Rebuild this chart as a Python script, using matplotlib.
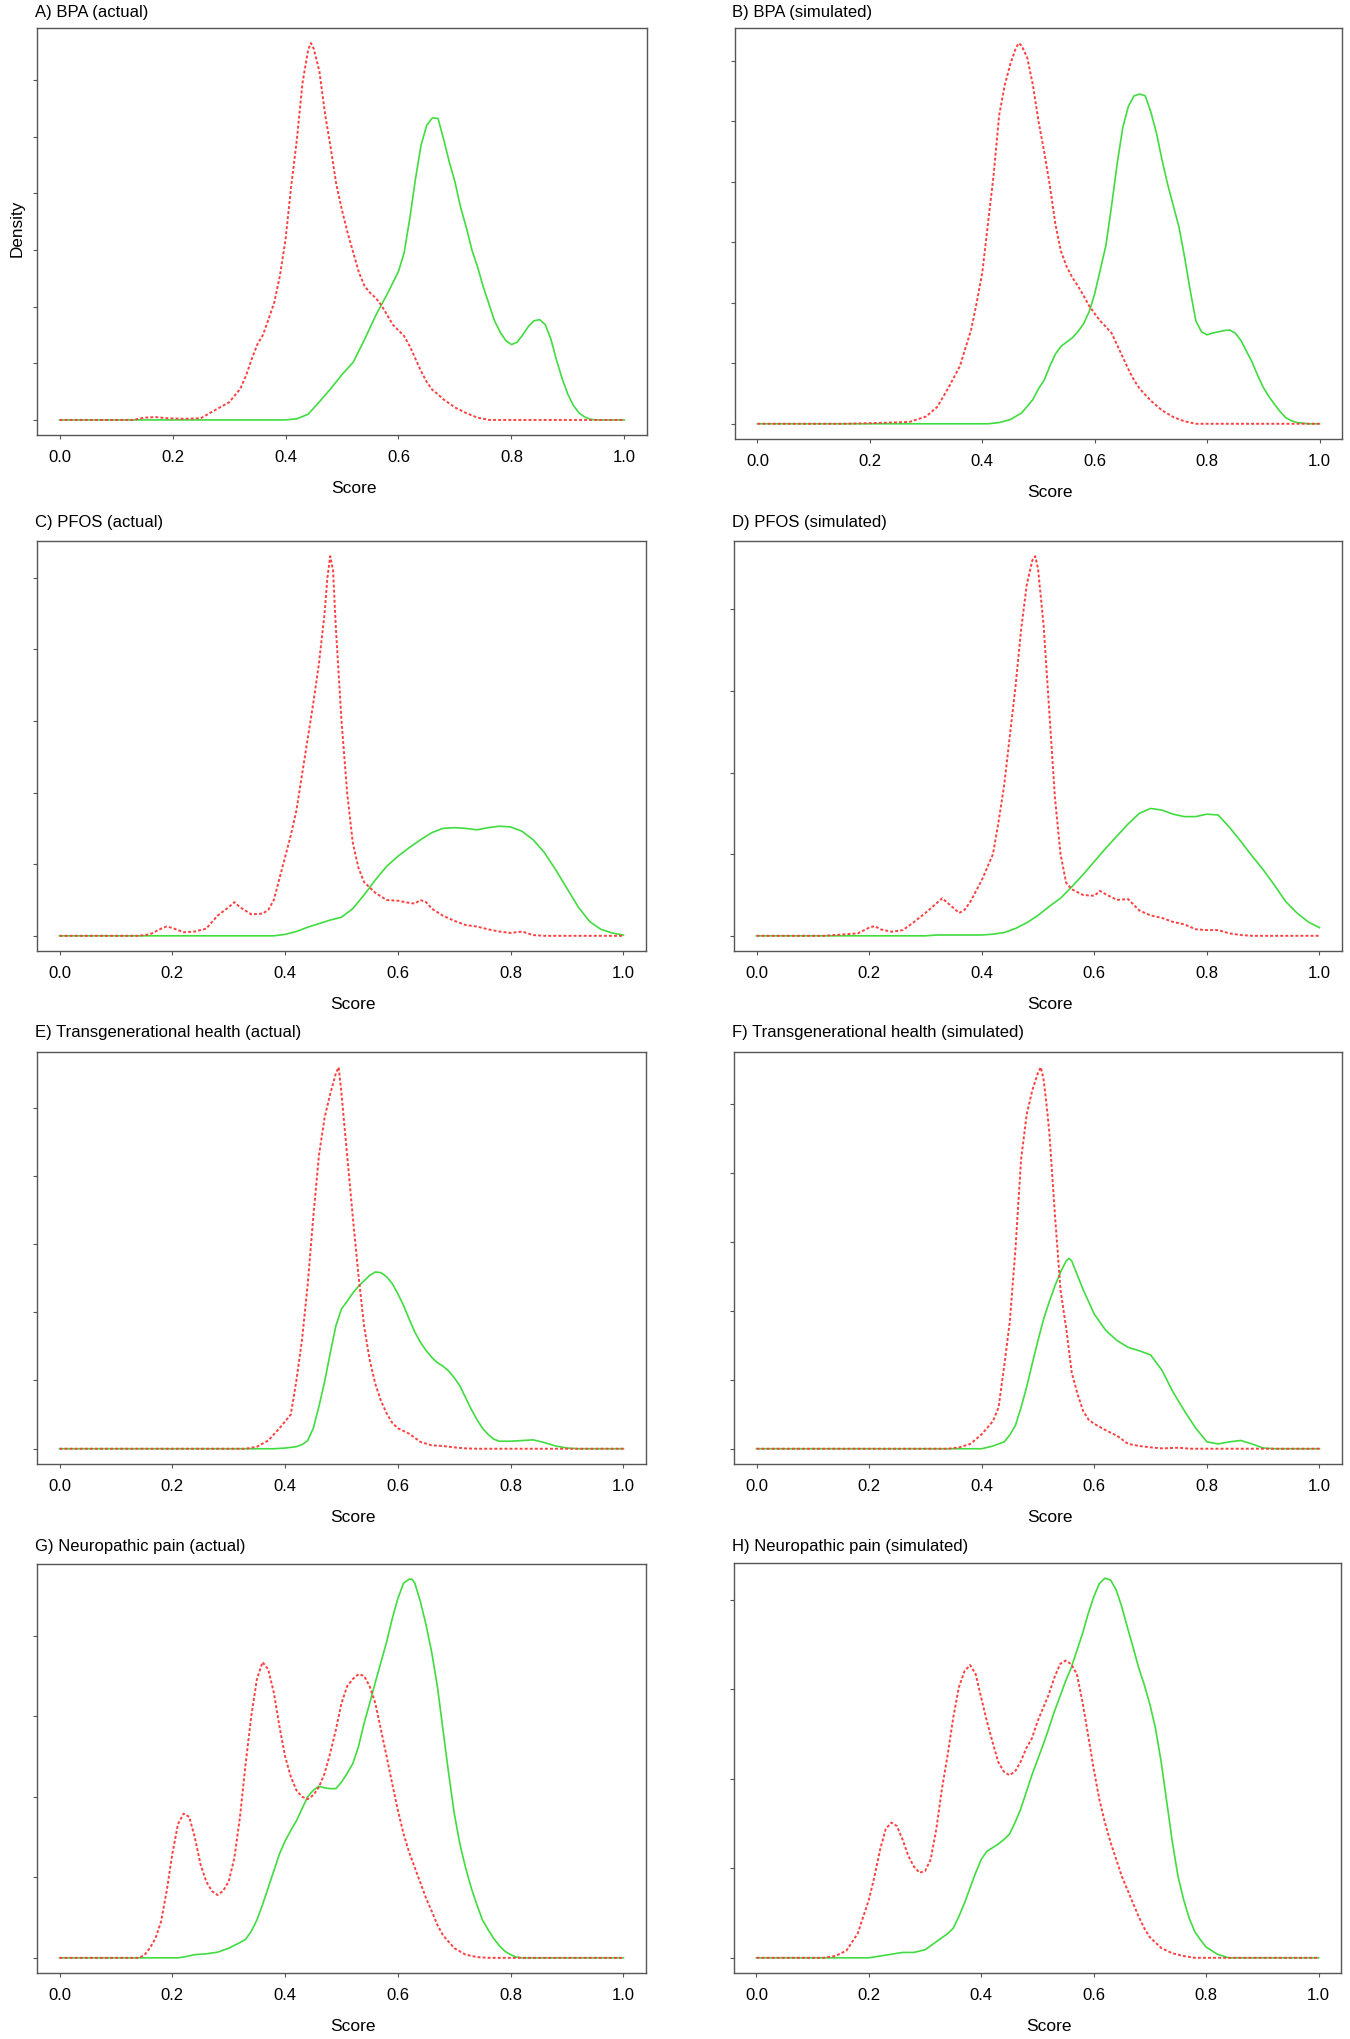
import matplotlib
matplotlib.use("Agg")
import matplotlib.pyplot as plt

plt.rcParams['font.family'] = ['Liberation Sans', 'DejaVu Sans']

# density curves, (score, density) pairs, density in y-tick units
bpa_actual_red = [(0, 0), (0.13, 0), (0.15, 0.04), (0.17, 0.05), (0.19, 0.03), (0.22, 0.02), (0.25, 0.03),
                  (0.28, 0.2), (0.30, 0.31), (0.32, 0.55), (0.33, 0.78), (0.34, 1.07), (0.35, 1.33), (0.36, 1.5),
                  (0.37, 1.78), (0.38, 2.07), (0.39, 2.54), (0.40, 3.18), (0.41, 4.12), (0.42, 4.94), (0.43, 5.94),
                  (0.44, 6.53), (0.445, 6.65), (0.45, 6.55), (0.46, 6.15), (0.47, 5.4), (0.48, 4.8), (0.49, 4.15),
                  (0.50, 3.7), (0.51, 3.3), (0.52, 2.95), (0.53, 2.6), (0.54, 2.36), (0.55, 2.24), (0.56, 2.15),
                  (0.57, 2.02), (0.58, 1.85), (0.59, 1.68), (0.60, 1.58), (0.61, 1.48), (0.62, 1.30), (0.63, 1.08),
                  (0.64, 0.86), (0.65, 0.67), (0.66, 0.53), (0.67, 0.45), (0.68, 0.36), (0.70, 0.22), (0.72, 0.12),
                  (0.74, 0.04), (0.76, 0), (1.0, 0)]
bpa_actual_green = [(0, 0), (0.40, 0), (0.42, 0.02), (0.44, 0.1), (0.46, 0.32), (0.48, 0.55), (0.50, 0.8),
                    (0.52, 1.02), (0.54, 1.42), (0.56, 1.85), (0.58, 2.22), (0.60, 2.62), (0.61, 2.95), (0.62, 3.55),
                    (0.63, 4.25), (0.64, 4.85), (0.65, 5.2), (0.66, 5.33), (0.67, 5.32), (0.68, 4.95), (0.69, 4.55),
                    (0.70, 4.2), (0.71, 3.75), (0.72, 3.4), (0.73, 3.0), (0.74, 2.7), (0.75, 2.35), (0.76, 2.05),
                    (0.77, 1.75), (0.78, 1.55), (0.79, 1.4), (0.80, 1.33), (0.81, 1.37), (0.82, 1.5), (0.83, 1.65),
                    (0.84, 1.75), (0.85, 1.77), (0.86, 1.68), (0.87, 1.42), (0.88, 1.05), (0.89, 0.72), (0.90, 0.45),
                    (0.91, 0.25), (0.92, 0.12), (0.93, 0.05), (0.94, 0.01), (0.95, 0), (1.0, 0)]

bpa_sim_red = [(0, 0), (0.15, 0), (0.2, 0.01), (0.27, 0.03), (0.30, 0.12), (0.32, 0.28), (0.34, 0.6), (0.36, 0.95),
               (0.37, 1.25), (0.38, 1.55), (0.39, 2.0), (0.40, 2.5), (0.41, 3.3), (0.42, 4.1), (0.43, 5.1),
               (0.44, 5.6), (0.45, 5.95), (0.46, 6.22), (0.465, 6.29), (0.47, 6.25), (0.48, 6.05), (0.49, 5.6),
               (0.50, 5.0), (0.51, 4.5), (0.52, 3.95), (0.53, 3.3), (0.54, 2.85), (0.55, 2.6), (0.56, 2.42),
               (0.57, 2.28), (0.58, 2.12), (0.59, 1.95), (0.60, 1.82), (0.61, 1.7), (0.62, 1.6), (0.63, 1.5),
               (0.64, 1.3), (0.65, 1.1), (0.66, 0.9), (0.67, 0.72), (0.68, 0.58), (0.70, 0.38), (0.72, 0.22),
               (0.74, 0.11), (0.76, 0.04), (0.78, 0), (1.0, 0)]
bpa_sim_green = [(0, 0), (0.41, 0), (0.43, 0.02), (0.45, 0.07), (0.47, 0.18), (0.49, 0.4), (0.50, 0.58),
                 (0.51, 0.72), (0.52, 0.95), (0.53, 1.15), (0.54, 1.28), (0.55, 1.35), (0.56, 1.42), (0.57, 1.52),
                 (0.58, 1.65), (0.59, 1.85), (0.60, 2.15), (0.61, 2.55), (0.62, 2.95), (0.63, 3.6), (0.64, 4.3),
                 (0.65, 4.9), (0.66, 5.25), (0.67, 5.42), (0.68, 5.45), (0.69, 5.42), (0.70, 5.15), (0.71, 4.8),
                 (0.72, 4.35), (0.73, 3.95), (0.74, 3.6), (0.75, 3.25), (0.76, 2.75), (0.77, 2.2), (0.78, 1.7),
                 (0.79, 1.52), (0.80, 1.47), (0.81, 1.5), (0.82, 1.52), (0.83, 1.54), (0.84, 1.55), (0.85, 1.5),
                 (0.86, 1.38), (0.87, 1.2), (0.88, 1.02), (0.89, 0.8), (0.90, 0.6), (0.91, 0.45), (0.92, 0.32),
                 (0.93, 0.2), (0.94, 0.1), (0.95, 0.05), (0.96, 0.02), (0.98, 0), (1.0, 0)]

pfos_actual_red = [(0, 0), (0.14, 0), (0.16, 0.02), (0.18, 0.1), (0.19, 0.13), (0.20, 0.11), (0.22, 0.05),
                   (0.24, 0.06), (0.26, 0.1), (0.28, 0.28), (0.30, 0.4), (0.31, 0.47), (0.32, 0.4), (0.34, 0.3),
                   (0.36, 0.31), (0.37, 0.36), (0.38, 0.5), (0.39, 0.8), (0.40, 1.1), (0.41, 1.4), (0.42, 1.75),
                   (0.43, 2.25), (0.44, 2.75), (0.45, 3.25), (0.46, 3.8), (0.47, 4.5), (0.475, 5.0), (0.48, 5.3),
                   (0.485, 5.1), (0.49, 4.3), (0.50, 3.0), (0.51, 2.0), (0.52, 1.3), (0.53, 0.95), (0.54, 0.75),
                   (0.56, 0.6), (0.58, 0.5), (0.60, 0.49), (0.62, 0.46), (0.63, 0.45), (0.64, 0.5), (0.65, 0.47),
                   (0.66, 0.38), (0.68, 0.28), (0.70, 0.21), (0.72, 0.15), (0.74, 0.13), (0.76, 0.09), (0.78, 0.06),
                   (0.80, 0.04), (0.82, 0.06), (0.84, 0.01), (0.86, 0), (1.0, 0)]
pfos_actual_green = [(0, 0), (0.38, 0), (0.40, 0.02), (0.42, 0.06), (0.44, 0.12), (0.46, 0.17), (0.48, 0.22),
                     (0.50, 0.26), (0.52, 0.38), (0.54, 0.57), (0.56, 0.78), (0.58, 0.97), (0.60, 1.11), (0.62, 1.23),
                     (0.64, 1.34), (0.66, 1.44), (0.68, 1.50), (0.70, 1.51), (0.72, 1.50), (0.74, 1.48), (0.76, 1.51),
                     (0.78, 1.53), (0.80, 1.52), (0.82, 1.46), (0.84, 1.34), (0.86, 1.16), (0.88, 0.92), (0.90, 0.66),
                     (0.92, 0.40), (0.94, 0.20), (0.96, 0.09), (0.98, 0.04), (1.0, 0.01)]

pfos_sim_red = [(0, 0), (0.12, 0), (0.14, 0.01), (0.18, 0.03), (0.20, 0.1), (0.21, 0.12), (0.22, 0.08), (0.24, 0.05),
                (0.26, 0.07), (0.28, 0.17), (0.30, 0.28), (0.32, 0.4), (0.33, 0.46), (0.34, 0.4), (0.36, 0.28),
                (0.37, 0.32), (0.38, 0.42), (0.40, 0.68), (0.42, 1.0), (0.43, 1.4), (0.44, 1.85), (0.45, 2.45),
                (0.46, 3.05), (0.47, 3.75), (0.48, 4.3), (0.49, 4.6), (0.495, 4.65), (0.50, 4.5), (0.51, 3.8),
                (0.52, 2.75), (0.53, 1.7), (0.54, 1.0), (0.55, 0.65), (0.56, 0.57), (0.58, 0.5), (0.60, 0.49),
                (0.61, 0.55), (0.62, 0.51), (0.64, 0.44), (0.66, 0.45), (0.68, 0.31), (0.70, 0.25), (0.72, 0.22),
                (0.74, 0.17), (0.76, 0.14), (0.78, 0.08), (0.80, 0.07), (0.82, 0.07), (0.84, 0.03), (0.86, 0.01),
                (0.88, 0), (1.0, 0)]
pfos_sim_green = [(0, 0), (0.30, 0), (0.32, 0.01), (0.40, 0.01), (0.42, 0.02), (0.44, 0.04), (0.46, 0.09),
                  (0.48, 0.16), (0.50, 0.25), (0.52, 0.36), (0.54, 0.46), (0.56, 0.60), (0.58, 0.75), (0.60, 0.91),
                  (0.62, 1.07), (0.64, 1.22), (0.66, 1.37), (0.68, 1.50), (0.70, 1.56), (0.72, 1.54), (0.74, 1.49),
                  (0.76, 1.46), (0.78, 1.46), (0.80, 1.49), (0.82, 1.48), (0.84, 1.33), (0.86, 1.16), (0.88, 0.98),
                  (0.90, 0.81), (0.92, 0.62), (0.94, 0.42), (0.96, 0.28), (0.98, 0.17), (1.0, 0.10)]

trans_actual_red = [(0, 0), (0.33, 0), (0.35, 0.03), (0.37, 0.12), (0.39, 0.3), (0.41, 0.5), (0.42, 1.0),
                    (0.43, 1.6), (0.44, 2.4), (0.45, 3.4), (0.46, 4.3), (0.47, 4.85), (0.48, 5.2), (0.49, 5.5),
                    (0.495, 5.59), (0.50, 5.2), (0.51, 4.3), (0.52, 3.4), (0.53, 2.55), (0.54, 1.8), (0.55, 1.3),
                    (0.56, 0.95), (0.57, 0.7), (0.58, 0.52), (0.59, 0.38), (0.60, 0.3), (0.62, 0.22), (0.64, 0.1),
                    (0.66, 0.05), (0.68, 0.04), (0.70, 0.02), (0.72, 0.005), (0.74, 0), (1.0, 0)]
trans_actual_green = [(0, 0), (0.38, 0), (0.40, 0.01), (0.42, 0.03), (0.43, 0.06), (0.44, 0.12), (0.45, 0.3),
                      (0.46, 0.62), (0.47, 0.98), (0.48, 1.4), (0.49, 1.8), (0.50, 2.05), (0.51, 2.16), (0.52, 2.28),
                      (0.53, 2.38), (0.54, 2.46), (0.55, 2.54), (0.56, 2.59), (0.57, 2.58), (0.58, 2.52), (0.59, 2.42),
                      (0.60, 2.27), (0.61, 2.1), (0.62, 1.9), (0.63, 1.71), (0.64, 1.56), (0.65, 1.44), (0.66, 1.34),
                      (0.67, 1.26), (0.68, 1.21), (0.69, 1.14), (0.70, 1.04), (0.71, 0.92), (0.72, 0.75), (0.73, 0.58),
                      (0.74, 0.43), (0.75, 0.3), (0.76, 0.21), (0.77, 0.14), (0.78, 0.11), (0.80, 0.11), (0.82, 0.12),
                      (0.84, 0.13), (0.86, 0.09), (0.88, 0.04), (0.90, 0.01), (0.92, 0), (1.0, 0)]

trans_sim_red = [(0, 0), (0.34, 0), (0.36, 0.02), (0.38, 0.07), (0.40, 0.21), (0.42, 0.4), (0.43, 0.6), (0.44, 1.2),
                 (0.45, 1.85), (0.46, 2.9), (0.47, 4.2), (0.48, 4.85), (0.49, 5.2), (0.50, 5.45), (0.505, 5.53),
                 (0.51, 5.35), (0.515, 5.0), (0.52, 4.6), (0.53, 3.4), (0.54, 2.3), (0.55, 1.75), (0.56, 1.1),
                 (0.57, 0.8), (0.58, 0.55), (0.59, 0.42), (0.60, 0.36), (0.62, 0.27), (0.64, 0.19), (0.66, 0.07),
                 (0.68, 0.04), (0.70, 0.02), (0.72, 0.005), (0.75, 0.015), (0.77, 0), (1.0, 0)]
trans_sim_green = [(0, 0), (0.40, 0), (0.42, 0.04), (0.44, 0.10), (0.45, 0.20), (0.46, 0.34), (0.47, 0.60),
                   (0.48, 0.90), (0.49, 1.24), (0.50, 1.57), (0.51, 1.88), (0.52, 2.13), (0.53, 2.36), (0.54, 2.56),
                   (0.55, 2.72), (0.555, 2.76), (0.56, 2.72), (0.58, 2.31), (0.60, 1.95), (0.62, 1.72), (0.64, 1.57),
                   (0.66, 1.47), (0.68, 1.42), (0.70, 1.36), (0.72, 1.14), (0.74, 0.82), (0.76, 0.55), (0.78, 0.30),
                   (0.80, 0.10), (0.82, 0.07), (0.84, 0.10), (0.86, 0.12), (0.88, 0.07), (0.90, 0.01), (0.92, 0),
                   (1.0, 0)]

neuro_actual_red = [(0, 0), (0.14, 0), (0.15, 0.03), (0.16, 0.12), (0.17, 0.24), (0.18, 0.45), (0.19, 0.83),
                    (0.20, 1.29), (0.21, 1.66), (0.22, 1.79), (0.23, 1.75), (0.24, 1.49), (0.25, 1.16), (0.26, 0.95),
                    (0.27, 0.83), (0.28, 0.78), (0.29, 0.83), (0.30, 0.95), (0.31, 1.24), (0.32, 1.75), (0.33, 2.41),
                    (0.34, 3.00), (0.35, 3.46), (0.36, 3.67), (0.37, 3.58), (0.38, 3.29), (0.39, 2.87), (0.40, 2.50),
                    (0.41, 2.25), (0.42, 2.08), (0.43, 2.00), (0.44, 1.97), (0.45, 2.02), (0.46, 2.12), (0.47, 2.29),
                    (0.48, 2.54), (0.49, 2.83), (0.50, 3.16), (0.51, 3.37), (0.52, 3.46), (0.53, 3.52), (0.54, 3.50),
                    (0.55, 3.37), (0.56, 3.16), (0.57, 2.83), (0.58, 2.50), (0.59, 2.16), (0.60, 1.83), (0.61, 1.54),
                    (0.62, 1.31), (0.63, 1.12), (0.64, 0.93), (0.65, 0.74), (0.66, 0.58), (0.67, 0.41), (0.68, 0.28),
                    (0.70, 0.12), (0.72, 0.04), (0.74, 0.01), (0.76, 0), (1.0, 0)]
neuro_actual_green = [(0, 0), (0.21, 0), (0.22, 0.01), (0.24, 0.04), (0.26, 0.05), (0.28, 0.07), (0.30, 0.12),
                      (0.32, 0.19), (0.33, 0.23), (0.34, 0.33), (0.35, 0.47), (0.36, 0.66), (0.37, 0.87), (0.38, 1.08),
                      (0.39, 1.29), (0.40, 1.45), (0.41, 1.58), (0.42, 1.70), (0.43, 1.85), (0.44, 2.00), (0.45, 2.08),
                      (0.46, 2.13), (0.47, 2.11), (0.48, 2.10), (0.49, 2.10), (0.50, 2.18), (0.51, 2.29), (0.52, 2.41),
                      (0.53, 2.62), (0.54, 2.91), (0.55, 3.16), (0.56, 3.42), (0.57, 3.67), (0.58, 3.92), (0.59, 4.21),
                      (0.60, 4.46), (0.61, 4.65), (0.62, 4.70), (0.625, 4.70), (0.63, 4.65), (0.64, 4.42), (0.65, 4.13),
                      (0.66, 3.79), (0.67, 3.37), (0.68, 2.83), (0.69, 2.29), (0.70, 1.79), (0.71, 1.41), (0.72, 1.12),
                      (0.73, 0.87), (0.74, 0.66), (0.75, 0.47), (0.76, 0.35), (0.77, 0.24), (0.78, 0.15), (0.79, 0.08),
                      (0.80, 0.04), (0.81, 0.01), (0.82, 0), (1.0, 0)]

neuro_sim_red = [(0, 0), (0.12, 0), (0.14, 0.02), (0.16, 0.08), (0.18, 0.27), (0.20, 0.65), (0.21, 0.91),
                 (0.22, 1.21), (0.23, 1.44), (0.24, 1.51), (0.25, 1.47), (0.26, 1.32), (0.27, 1.14), (0.28, 1.02),
                 (0.29, 0.95), (0.30, 0.97), (0.31, 1.10), (0.32, 1.44), (0.33, 1.89), (0.34, 2.26), (0.35, 2.68),
                 (0.36, 3.02), (0.37, 3.20), (0.38, 3.27), (0.39, 3.17), (0.40, 2.90), (0.41, 2.64), (0.42, 2.41),
                 (0.43, 2.19), (0.44, 2.08), (0.45, 2.04), (0.46, 2.08), (0.47, 2.19), (0.48, 2.34), (0.49, 2.45),
                 (0.50, 2.64), (0.51, 2.79), (0.52, 2.94), (0.53, 3.13), (0.54, 3.28), (0.55, 3.32), (0.56, 3.28),
                 (0.57, 3.17), (0.58, 2.86), (0.59, 2.49), (0.60, 2.11), (0.61, 1.77), (0.62, 1.51), (0.63, 1.29),
                 (0.64, 1.10), (0.65, 0.91), (0.66, 0.76), (0.67, 0.61), (0.68, 0.46), (0.69, 0.33), (0.70, 0.23),
                 (0.72, 0.11), (0.74, 0.05), (0.76, 0.02), (0.78, 0), (1.0, 0)]
neuro_sim_green = [(0, 0), (0.20, 0), (0.22, 0.02), (0.24, 0.04), (0.26, 0.06), (0.28, 0.06), (0.30, 0.09),
                   (0.32, 0.18), (0.34, 0.27), (0.35, 0.33), (0.36, 0.46), (0.37, 0.61), (0.38, 0.78), (0.39, 0.95),
                   (0.40, 1.10), (0.41, 1.19), (0.42, 1.23), (0.43, 1.27), (0.44, 1.32), (0.45, 1.38), (0.46, 1.51),
                   (0.47, 1.66), (0.48, 1.85), (0.49, 2.04), (0.50, 2.21), (0.51, 2.38), (0.52, 2.56), (0.53, 2.75),
                   (0.54, 2.92), (0.55, 3.09), (0.56, 3.24), (0.57, 3.43), (0.58, 3.62), (0.59, 3.84), (0.60, 4.03),
                   (0.61, 4.18), (0.62, 4.24), (0.63, 4.22), (0.64, 4.11), (0.65, 3.92), (0.66, 3.69), (0.67, 3.47),
                   (0.68, 3.24), (0.69, 3.05), (0.70, 2.83), (0.71, 2.56), (0.72, 2.19), (0.73, 1.74), (0.74, 1.29),
                   (0.75, 0.91), (0.76, 0.65), (0.77, 0.44), (0.78, 0.29), (0.79, 0.20), (0.80, 0.12), (0.81, 0.08),
                   (0.82, 0.04), (0.83, 0.02), (0.84, 0), (1.0, 0)]

titles = ["A) BPA (actual)", "B) BPA (simulated)",
          "C) PFOS (actual)", "D) PFOS (simulated)",
          "E) Transgenerational health (actual)", "F) Transgenerational health (simulated)",
          "G) Neuropathic pain (actual)", "H) Neuropathic pain (simulated)"]
red_curves = [bpa_actual_red, bpa_sim_red, pfos_actual_red, pfos_sim_red,
              trans_actual_red, trans_sim_red, neuro_actual_red, neuro_sim_red]
green_curves = [bpa_actual_green, bpa_sim_green, pfos_actual_green, pfos_sim_green,
                trans_actual_green, trans_sim_green, neuro_actual_green, neuro_sim_green]
y_tick_max = [6, 6, 5, 4, 5, 5, 4, 4]
x_ticks = [0.0, 0.2, 0.4, 0.6, 0.8, 1.0]

W, H = 1350, 2040
# axes boxes in pixels: left, top, right, bottom
boxes = [(37, 29, 647, 436), (735, 29, 1342, 440),
         (37, 542, 646, 952), (734, 542, 1342, 952),
         (37, 1053, 646, 1465), (734, 1053, 1342, 1465),
         (37, 1565, 646, 1974), (734, 1564, 1341, 1974)]
title_y = [12, 12, 523, 523, 1033, 1033, 1547, 1547]

RED = '#ff4040'
GREEN = '#40dc40'
EDGE = '#555555'

fig = plt.figure(figsize=(W / 100, H / 100), dpi=100)

for i in range(8):
    l, t, r, b = boxes[i]
    ax = fig.add_axes([l / W, 1 - b / H, (r - l) / W, (b - t) / H])
    gx, gy = zip(*green_curves[i])
    rx, ry = zip(*red_curves[i])
    ax.plot(gx, gy, color=GREEN, lw=1.2)
    ax.plot(rx, ry, color=RED, lw=1.4, linestyle=(0, (1.5, 1.1)))

    ymax = max(max(gy), max(ry))
    ax.set_xlim(-0.04, 1.04)
    ax.set_ylim(-0.04 * ymax, 1.04 * ymax)

    ax.set_xticks(x_ticks)
    ax.set_xticklabels([f'{v:.1f}' for v in x_ticks])
    ax.set_yticks(range(0, y_tick_max[i] + 1))
    ax.set_yticklabels([])
    ax.tick_params(axis='x', length=3, width=0.8, color=EDGE, pad=7, labelsize=12)
    ax.tick_params(axis='y', length=3, width=0.8, color=EDGE)
    for s in ax.spines.values():
        s.set_color(EDGE)
        s.set_linewidth(1.0)

    ax.annotate('Score', xy=(0.5, 0), xycoords='axes fraction',
                xytext=(8.5, -37.5), textcoords='offset points',
                ha='center', va='center', fontsize=12.5)

    tx = 35 if i % 2 == 0 else 732
    fig.text(tx / W, 1 - title_y[i] / H, titles[i], ha='left', va='center', fontsize=12)

fig.text(17 / W, 1 - 228 / H, 'Density', rotation=90, ha='center', va='center', fontsize=12.3)

fig.savefig('out.png', dpi=100)
